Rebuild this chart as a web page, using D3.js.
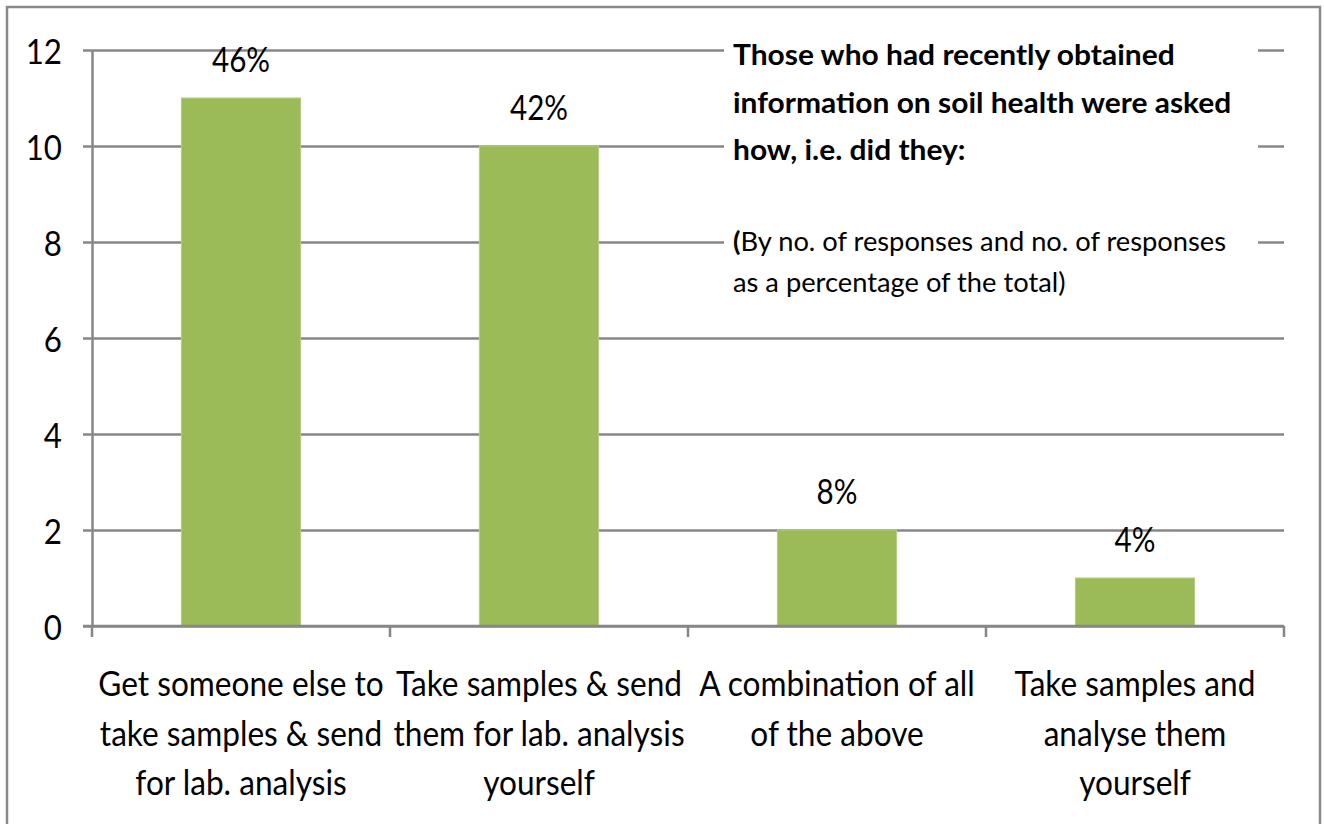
<!DOCTYPE html>
<html>
<head>
<meta charset="utf-8">
<script src="https://cdn.jsdelivr.net/npm/d3@7"></script>
<style>
  html, body { margin: 0; padding: 0; background: #fff; }
  svg { display: block; }
  text { font-family: Lato, "Open Sans", sans-serif; fill: #000; }
</style>
</head>
<body>
<svg id="chart" width="1324" height="824"></svg>
<script>
// ---- data ----
const categories = [
  "Get someone else to take samples & send for lab. analysis",
  "Take samples & send them for lab. analysis yourself",
  "A combination of all of the above",
  "Take samples and analyse them yourself"
];
const categoryLines = [
  ["Get someone else to", "take samples & send", "for lab. analysis"],
  ["Take samples & send", "them for lab. analysis", "yourself"],
  ["A combination of all", "of the above"],
  ["Take samples and", "analyse them", "yourself"]
];
const responses = [11, 10, 2, 1];
const percentLabels = ["46%", "42%", "8%", "4%"];
const yTicks = [0, 2, 4, 6, 8, 10, 12];
const titleLines = ["Those who had recently obtained", "information on soil health were asked", "how, i.e. did they:"];
const noteLines = ["(By no. of responses and no. of responses", "as a percentage of the total)"];

(function () {
// ---- layout ----
const svg = d3.select("#chart");
const pLeft = 92, pRight = 1284, pTop = 50, pBottom = 626;
const gridColor = "#878787";
const barColor = "#9BBB59";
const SX = 0.87;   // horizontal compression for numbers
const SXC = 0.93;  // for category labels
const SXT = 1.07;  // for title box

const x = d3.scaleBand().domain(categories).range([pLeft, pRight]).paddingInner(0.6).paddingOuter(0.3);
const y = d3.scaleLinear().domain([0, 12]).range([pBottom, pTop]);

// outer border
svg.append("rect").attr("x", 7).attr("y", 7).attr("width", 1313).attr("height", 830)
  .attr("fill", "none").attr("stroke", "#8a8a8a").attr("stroke-width", 2.5);

// gridlines via axis
const yAxis = d3.axisLeft(y).tickValues(yTicks).tickSize(-(pRight - pLeft)).tickSizeOuter(0).tickFormat("");
const gy = svg.append("g").attr("transform", `translate(${pLeft},0)`).call(yAxis);
gy.select(".domain").remove();
gy.selectAll(".tick line").attr("stroke", gridColor).attr("stroke-width", 2.5);
// left tick marks
const yTickMarks = d3.axisLeft(y).tickValues(yTicks).tickSize(9).tickSizeOuter(0).tickFormat("");
const gt = svg.append("g").attr("transform", `translate(${pLeft},0)`).call(yTickMarks);
gt.select(".domain").attr("stroke", gridColor).attr("stroke-width", 2.5);
gt.selectAll(".tick line").attr("stroke", gridColor).attr("stroke-width", 2.5);

// tick labels
svg.append("g").selectAll("text").data(yTicks).join("text")
  .attr("transform", d => `translate(62,${y(d) + 14}) scale(0.92,1)`)
  .attr("text-anchor", "end")
  .attr("font-size", 34)
  .text(d => d);

// title box (white background covering gridlines)
svg.append("rect").attr("x", 724).attr("y", 32).attr("width", 534).attr("height", 278).attr("fill", "#fff");

const tg = svg.append("g");
titleLines.forEach((t, i) => {
  tg.append("text")
    .attr("transform", `translate(733,${65 + i * 47.5}) scale(${SXT},1)`)
    .attr("font-size", 28).attr("font-weight", "bold").text(t);
});
noteLines.forEach((t, i) => {
  const tx = tg.append("text")
    .attr("transform", `translate(733,${251 + i * 41}) scale(1.05,1)`)
    .attr("font-size", 26);
  if (t.startsWith("(")) {
    tx.append("tspan").attr("font-weight", "bold").text("(");
    tx.append("tspan").text(t.slice(1));
  } else {
    tx.text(t);
  }
});

// bars
svg.append("g").selectAll("rect").data(responses).join("rect")
  .attr("x", (d, i) => x(categories[i]))
  .attr("width", x.bandwidth())
  .attr("y", d => y(d))
  .attr("height", d => y(0) - y(d))
  .attr("fill", barColor)
  .attr("stroke", "#b5cd84").attr("stroke-width", 1);

// percent labels
svg.append("g").selectAll("text").data(responses).join("text")
  .attr("transform", (d, i) => `translate(${x(categories[i]) + x.bandwidth() / 2},${y(d) - 26}) scale(${SX},1)`)
  .attr("text-anchor", "middle")
  .attr("font-size", 34)
  .text((d, i) => percentLabels[i]);

// x axis with ticks at category boundaries
const boundaries = d3.range(categories.length + 1).map(i => pLeft + i * x.step());
const gx = svg.append("g");
gx.append("line").attr("x1", pLeft - 9).attr("x2", pRight).attr("y1", pBottom).attr("y2", pBottom)
  .attr("stroke", gridColor).attr("stroke-width", 2.5);
gx.selectAll(".xt").data(boundaries).join("line").attr("class", "xt")
  .attr("x1", d => d).attr("x2", d => d).attr("y1", pBottom).attr("y2", pBottom + 11)
  .attr("stroke", gridColor).attr("stroke-width", 2.5);

// category labels
const cg = svg.append("g");
categoryLines.forEach((lines, i) => {
  const cx = x(categories[i]) + x.bandwidth() / 2;
  lines.forEach((ln, j) => {
    cg.append("text")
      .attr("transform", `translate(${cx},${696 + j * 49.5}) scale(${SXC},1)`)
      .attr("text-anchor", "middle")
      .attr("font-size", 34)
      .text(ln);
  });
});
})();
</script>
</body>
</html>
